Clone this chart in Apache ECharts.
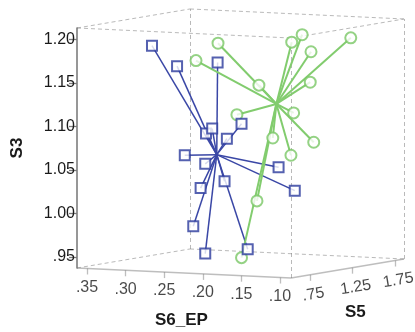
<!DOCTYPE html>
<html><head><meta charset="utf-8">
<script src="https://cdn.jsdelivr.net/npm/echarts@6/dist/echarts.min.js"></script>
<style>html,body{margin:0;padding:0;background:#fff}#c{width:415px;height:332px}</style>
</head><body><div id="c"></div>
<script>
// ---- data (S6_EP, S5, S3) per group ----
const blueS6 = [0.307,0.258,0.244,0.237,0.240,0.232,0.213,0.248,0.249,0.244,0.224,0.165,0.133,0.237,0.238,0.205];
const blueS5 = [0.90,0.75,1.10,0.90,1.00,1.10,1.10,0.75,1.00,0.90,1.00,1.10,1.00,0.75,0.90,1.10];
const blueS3 = [1.189,1.170,1.169,1.091,1.095,1.082,1.100,1.068,1.054,1.028,1.035,1.052,1.028,0.987,0.953,0.956];

const greenS6 = [0.283,0.271,0.218,0.192,0.195,0.167,0.132,0.168,0.173,0.230,0.200,0.180,0.193,0.204,0.224];
const greenS5 = [1.20,1.35,1.35,1.50,1.65,1.50,1.65,1.50,1.35,1.20,1.35,1.65,1.50,1.20,1.20];
const greenS3 = [1.168,1.186,1.140,1.188,1.194,1.178,1.193,1.143,1.110,1.108,1.080,1.071,1.058,1.010,0.944];

const s6Ticks = [0.35,0.30,0.25,0.20,0.15,0.10];
const s5Ticks = [0.75,1.25,1.75];
const s3Ticks = [0.95,1.00,1.05,1.10,1.15,1.20];

const s6Range = [0.0857, 0.363];
const s5Range = [0.526, 1.856];
const s3Range = [0.9374, 1.2132];

// ---- oblique projection of the 3D box onto the 2D grid (S6 horizontal, S3 vertical) ----
const K5X = 0.1101, K6Y = 0.0415, K5Y = 0.01644;
function proj(s6, s5, s3) {
  return [s6 - (s5 - s5Range[0]) * K5X,
          s3 - (s6Range[1] - s6) * K6Y + (s5 - s5Range[0]) * K5Y];
}
function fmt(v) { const s = v.toFixed(2); return v < 1 ? s.slice(1) : s; }
function mean(a) { return a.reduce((p, c) => p + c, 0) / a.length; }

function groupPts(a6, a5, a3) { return a6.map((v, i) => proj(v, a5[i], a3[i])); }
const bluePts = groupPts(blueS6, blueS5, blueS3);
const greenPts = groupPts(greenS6, greenS5, greenS3);
const blueC = proj(mean(blueS6), mean(blueS5), mean(blueS3));
const greenC = proj(mean(greenS6), mean(greenS5), mean(greenS3));

const [x0, x1] = [s6Range[1], s6Range[0]];
const [d0, d1] = s5Range;
const [z0, z1] = s3Range;
const C = (a, b, c) => proj(a, b, c);
const dashedEdges = [
  [C(x0,d0,z1), C(x1,d0,z1)],
  [C(x1,d0,z0), C(x1,d0,z1)],
  [C(x0,d0,z1), C(x0,d1,z1)],
  [C(x0,d1,z0), C(x0,d1,z1)],
  [C(x0,d0,z0), C(x0,d1,z0)],
  [C(x0,d1,z1), C(x1,d1,z1)],
  [C(x0,d1,z0), C(x1,d1,z0)],
  [C(x1,d0,z1), C(x1,d1,z1)],
  [C(x1,d1,z0), C(x1,d1,z1)]
].map(c => ({coords: c}));
const solidEdges = [
  [C(x0,d0,z0), C(x1,d0,z0)],
  [C(x1,d0,z0), C(x1,d1,z0)]
].map(c => ({coords: c}));
const TICK = 6 / 870;
const tickLines = [];
s6Ticks.forEach(t => { const p = proj(t, d0, z0); tickLines.push({coords: [p, [p[0], p[1] - TICK]]}); });
s5Ticks.forEach(t => { const p = proj(x1, t, z0); tickLines.push({coords: [p, [p[0], p[1] - TICK]]}); });

const s6LabelPts = s6Ticks.map(t => ({value: proj(t, d0, z0), name: fmt(t)}));
const s5LabelPts = s5Ticks.map(t => ({value: proj(x1, t, z0), name: fmt(t)}));

const TXT = '#1a1a1a', AX = '#7d7d7d', FONT = 'Liberation Sans, Arial, sans-serif';
const BLUE = '#2b3a9c', BLUE_L = '#3a47a6', GREEN = '#79c765', GREEN_L = '#82cc6e';

const chart = echarts.init(document.getElementById('c'));
chart.setOption({
  animation: false,
  backgroundColor: '#fff',
  grid: {left: 77, top: 28, width: 214, height: 240},
  xAxis: {type: 'value', inverse: true, min: s6Range[0], max: s6Range[1], show: false},
  yAxis: {
    type: 'value', min: s3Range[0], max: s3Range[1],
    name: 'S3', nameLocation: 'middle', nameGap: 51, nameRotate: 90,
    nameTextStyle: {fontFamily: FONT, fontWeight: 'bold', fontSize: 17, color: TXT},
    axisLine: {show: true, lineStyle: {color: AX, width: 1.6}},
    axisTick: {show: true, length: 8, customValues: s3Ticks, lineStyle: {color: AX, width: 1.3}},
    axisLabel: {customValues: s3Ticks, formatter: v => fmt(v), fontFamily: FONT, fontSize: 16, color: TXT, margin: 2},
    splitLine: {show: false}
  },
  graphic: [
    {type: 'text', left: 155, top: 312, style: {text: 'S6_EP', font: 'bold 17px ' + FONT, fill: TXT}},
    {type: 'text', left: 345, top: 304, style: {text: 'S5', font: 'bold 17px ' + FONT, fill: TXT}}
  ],
  series: [
    {type: 'lines', coordinateSystem: 'cartesian2d', clip: false, silent: true, z: 1,
     lineStyle: {color: '#737373', width: 1, type: [4, 3]}, data: dashedEdges},
    {type: 'lines', coordinateSystem: 'cartesian2d', clip: false, silent: true, z: 1,
     lineStyle: {color: AX, width: 1.6}, data: solidEdges},
    {type: 'lines', coordinateSystem: 'cartesian2d', clip: false, silent: true, z: 1,
     lineStyle: {color: AX, width: 1.3}, data: tickLines},
    {type: 'scatter', clip: false, symbolSize: 0, silent: true, data: s6LabelPts,
     label: {show: true, position: 'bottom', distance: 11, formatter: p => p.name, fontFamily: FONT, fontSize: 16, color: TXT}},
    {type: 'scatter', clip: false, symbolSize: 0, silent: true, data: s5LabelPts,
     label: {show: true, position: 'inside', offset: [0, 20], rotate: 9.5, formatter: p => p.name, fontFamily: FONT, fontSize: 16, color: TXT}},
    {type: 'lines', coordinateSystem: 'cartesian2d', clip: false, silent: true, z: 2,
     lineStyle: {color: BLUE_L, width: 1.5, opacity: 1}, data: bluePts.map(p => ({coords: [p, blueC]}))},
    {type: 'lines', coordinateSystem: 'cartesian2d', clip: false, silent: true, z: 2,
     lineStyle: {color: GREEN_L, width: 2, opacity: 1}, data: greenPts.map(p => ({coords: [p, greenC]}))},
    {type: 'scatter', clip: false, z: 3, symbol: 'emptyCircle', symbolSize: 11,
     itemStyle: {color: GREEN, borderWidth: 2}, data: greenPts},
    {type: 'scatter', clip: false, z: 3, symbol: 'emptyRect', symbolSize: 10,
     itemStyle: {color: BLUE, borderWidth: 2}, data: bluePts}
  ]
});
</script></body></html>
